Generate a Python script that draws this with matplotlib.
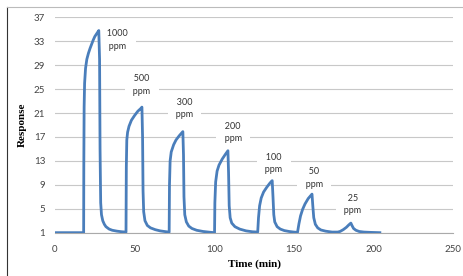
import matplotlib.pyplot as plt
from matplotlib.lines import Line2D

# time (min) and response
time = [0, 18.0,
        18.1, 18.3, 18.6, 19.2, 20, 21, 22, 23, 24, 25, 26, 27, 27.5,
        28.0, 28.3, 28.7, 29.2, 30, 31, 32, 34, 36, 39, 42, 44.6,
        44.8, 45.1, 45.6, 46.5, 48, 50, 52, 54, 54.6,
        55.0, 55.3, 55.7, 56.5, 58, 60, 63, 66, 70, 71.7,
        71.9, 72.3, 73, 74.5, 76, 78, 80.3,
        80.7, 81, 81.5, 82.5, 84, 86, 89, 93, 98, 100.2,
        100.4, 100.9, 101.8, 103, 105, 107, 108.6,
        109, 109.4, 110, 111, 113, 116, 120, 124, 127.3,
        127.8, 128.5, 129.5, 131, 133, 135, 136.4,
        136.9, 137.4, 138, 139.5, 141.5, 144, 147, 150, 152.3,
        153.2, 154.2, 155.5, 157, 159, 161.4,
        161.9, 162.5, 163.5, 165, 167, 170, 174, 177.5,
        179, 181, 183, 184.5, 185.8,
        186.5, 187.5, 189, 191, 194, 198, 204]
response = [1.0, 1.0,
            12, 22, 26, 28.5, 30, 31, 31.8, 32.5, 33.2, 33.8, 34.2, 34.6, 34.8,
            30, 15, 6, 4, 3, 2.4, 2.0, 1.6, 1.4, 1.25, 1.15, 1.1,
            12, 16.5, 17.8, 18.8, 19.8, 20.6, 21.3, 21.8, 22.0,
            17, 8, 4.5, 3.0, 2.2, 1.8, 1.5, 1.3, 1.15, 1.1,
            9, 13, 14.5, 15.7, 16.5, 17.2, 17.9,
            14, 7, 4, 2.8, 2.1, 1.7, 1.4, 1.2, 1.05, 1.0,
            6, 9.5, 11.3, 12.3, 13.3, 14.1, 14.7,
            11, 5.5, 3.5, 2.6, 2.0, 1.6, 1.3, 1.15, 1.1,
            3.5, 5.5, 6.8, 7.8, 8.6, 9.3, 9.7,
            7, 4.0, 2.8, 2.0, 1.6, 1.35, 1.2, 1.1, 1.05,
            2.5, 3.8, 4.9, 5.8, 6.7, 7.45,
            5.5, 3.5, 2.4, 1.8, 1.45, 1.25, 1.1, 1.1,
            1.2, 1.5, 1.9, 2.3, 2.6,
            2.2, 1.7, 1.4, 1.2, 1.1, 1.05, 1.0]

labels = ['1000\nppm', '500\nppm', '300\nppm', '200\nppm', '100\nppm', '50\nppm', '25\nppm']
label_x = [39, 54.6, 81.3, 111.8, 137.4, 162.7, 187]
label_y = [33.2, 25.7, 21.8, 17.75, 12.55, 10.1, 5.67]

yticks = [1, 5, 9, 13, 17, 21, 25, 29, 33, 37]
xticks = [0, 50, 100, 150, 200, 250]

fig = plt.figure(figsize=(4.64, 2.76), dpi=100)
ax = fig.add_axes([0.1185, 0.157, 0.858, 0.78])

ax.plot(time, response, color='#4a7ebb', linewidth=2, zorder=3)

for t, x, y in zip(labels, label_x, label_y):
    # pad with spaces so the white box cuts the gridlines like the original
    padded = '\n'.join('   ' + s + '   ' for s in t.split('\n'))
    ax.text(x, y, padded, ha='center', va='center', fontsize=6.5, color='#333333',
            family='Lato', linespacing=1.5, zorder=2,
            bbox=dict(facecolor='white', edgecolor='none', pad=1))

ax.set_xlim(0, 250)
ax.set_ylim(1, 37)
ax.set_xticks(xticks)
ax.set_yticks(yticks)
ax.yaxis.grid(True, color='#c8c8c8', linewidth=0.8)
ax.set_axisbelow(True)
for s in ['top', 'right', 'left']:
    ax.spines[s].set_visible(False)
ax.spines['bottom'].set_color('#aaaaaa')
ax.tick_params(length=0, labelsize=7, labelcolor='#444444')
ax.tick_params(axis='x', pad=9)
ax.tick_params(axis='y', pad=7)
for lab in ax.get_xticklabels() + ax.get_yticklabels():
    lab.set_family('Lato')

ax.set_xlabel('Time (min)', family='Liberation Serif', fontweight='bold', fontsize=8, labelpad=4)
ax.set_ylabel('Response', family='Liberation Serif', fontweight='bold', fontsize=8, labelpad=5)

# outer frame of the pasted figure
fig.add_artist(Line2D([7/464, 7/464], [0, 1 - 7/276], color='#333333', linewidth=0.8))
fig.add_artist(Line2D([7/464, 1], [1 - 7/276, 1 - 7/276], color='#bbbbbb', linewidth=0.8))

fig.savefig('out.png', dpi=100)
